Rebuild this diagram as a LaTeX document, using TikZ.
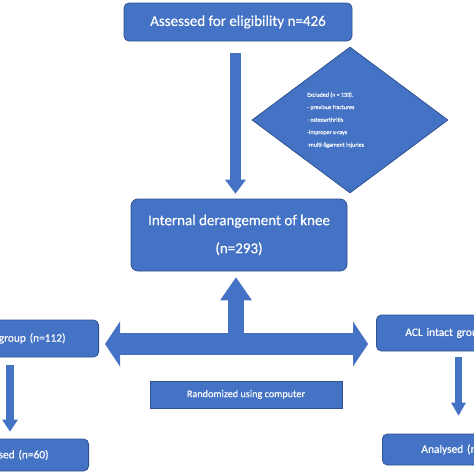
\documentclass[tikz,border=0pt]{standalone}
\usepackage{fontspec}
\setmainfont[FakeBold=0.4]{Carlito}
\usepackage{tikz}
\usetikzlibrary{calc,arrows.meta,positioning,shapes.geometric}
\definecolor{flowc}{HTML}{4472C4}
\definecolor{edgec}{HTML}{2F528F}
\tikzset{
  box/.style={draw=edgec,line width=0.8pt,fill=flowc,text=white,rounded corners=5pt,inner sep=2pt},
  excl/.style={diamond,draw=edgec,line width=0.8pt,fill=flowc,minimum width=196pt,minimum height=146pt,inner sep=0pt},
  dtext/.style={text=white,align=left,inner sep=0pt,font=\fontsize{6}{12.5}\selectfont},
  grp/.style={box,text width=150pt,minimum height=36pt,font=\fontsize{11.4}{13}\selectfont}
}
\begin{document}
\begin{tikzpicture}[x=1pt,y=-1pt]
\useasboundingbox (0,0) rectangle (474,474);
\clip (0,0) rectangle (474,474);
\node[box,minimum width=228pt,minimum height=38pt,font=\fontsize{15}{18}\selectfont] (elig) at (238,22) {Assessed for eligibility n=426};
\node[excl] (excl) at (350,120) {};
\node[dtext,anchor=west] (exclt) at ($(excl.center)+(-43,0)$) {Excluded (n = 133).\\- previous fractures\\- osteoarthritis\\-improper x-rays\\-multi-ligament injuries};
\node[box,rounded corners=7pt,minimum width=216pt,minimum height=72pt,align=center,font=\fontsize{15}{28}\selectfont] (knee) at (239,235) {Internal derangement of knee\\(n=293)};
\node[box,rounded corners=0pt,minimum width=192pt,minimum height=27pt,font=\fontsize{10.2}{12}\selectfont] (rand) at (246,394.5) {Randomized using computer};
\node[grp,anchor=east,text width=154pt,inner xsep=33pt,minimum height=37pt,align=right] (defgrp) at (99,338.5) {group (n=112)};
\node[grp,anchor=west,inner xsep=29pt,align=left] (intgrp) at (376,333) {ACL intact grou};
\node[grp,anchor=east,inner xsep=40pt,minimum height=32pt,align=right] (defana) at (89,455) {sed (n=60)};
\node[grp,anchor=west,inner xsep=39pt,minimum height=31pt,align=left] (intana) at (382,449.5) {Analysed (n};
\coordinate (hub) at (236,344);
\draw[flowc,line width=11pt,-{Triangle[length=14pt,width=21pt,line width=0pt]}] ($(elig.south)+(-2.5,12)$) -- ($(knee.north)+(-3.5,-5)$);
\draw[flowc,line width=22pt,{Triangle[length=15pt,width=45pt,line width=0pt]}-{Triangle[length=15pt,width=45pt,line width=0pt]}] ($(hub -| defgrp.east)+(6,0)$) -- ($(hub -| intgrp.west)+(-8,0)$);
\draw[flowc,line width=16pt,-{Triangle[length=23pt,width=32pt,line width=0pt]}] (hub) -- ($(knee.south)+(-3,6)$);
\draw[flowc,line width=8pt,-{Triangle[length=12pt,width=16pt,line width=0pt]}] ($(defgrp.south east)+(-89,8)$) -- ($(defana.north east)+(-79,-7)$);
\draw[flowc,line width=7pt,-{Triangle[length=13pt,width=15pt,line width=0pt]}] ($(intgrp.south west)+(82.5,6)$) -- ($(intana.north west)+(76.5,-18)$);
\end{tikzpicture}
\end{document}
